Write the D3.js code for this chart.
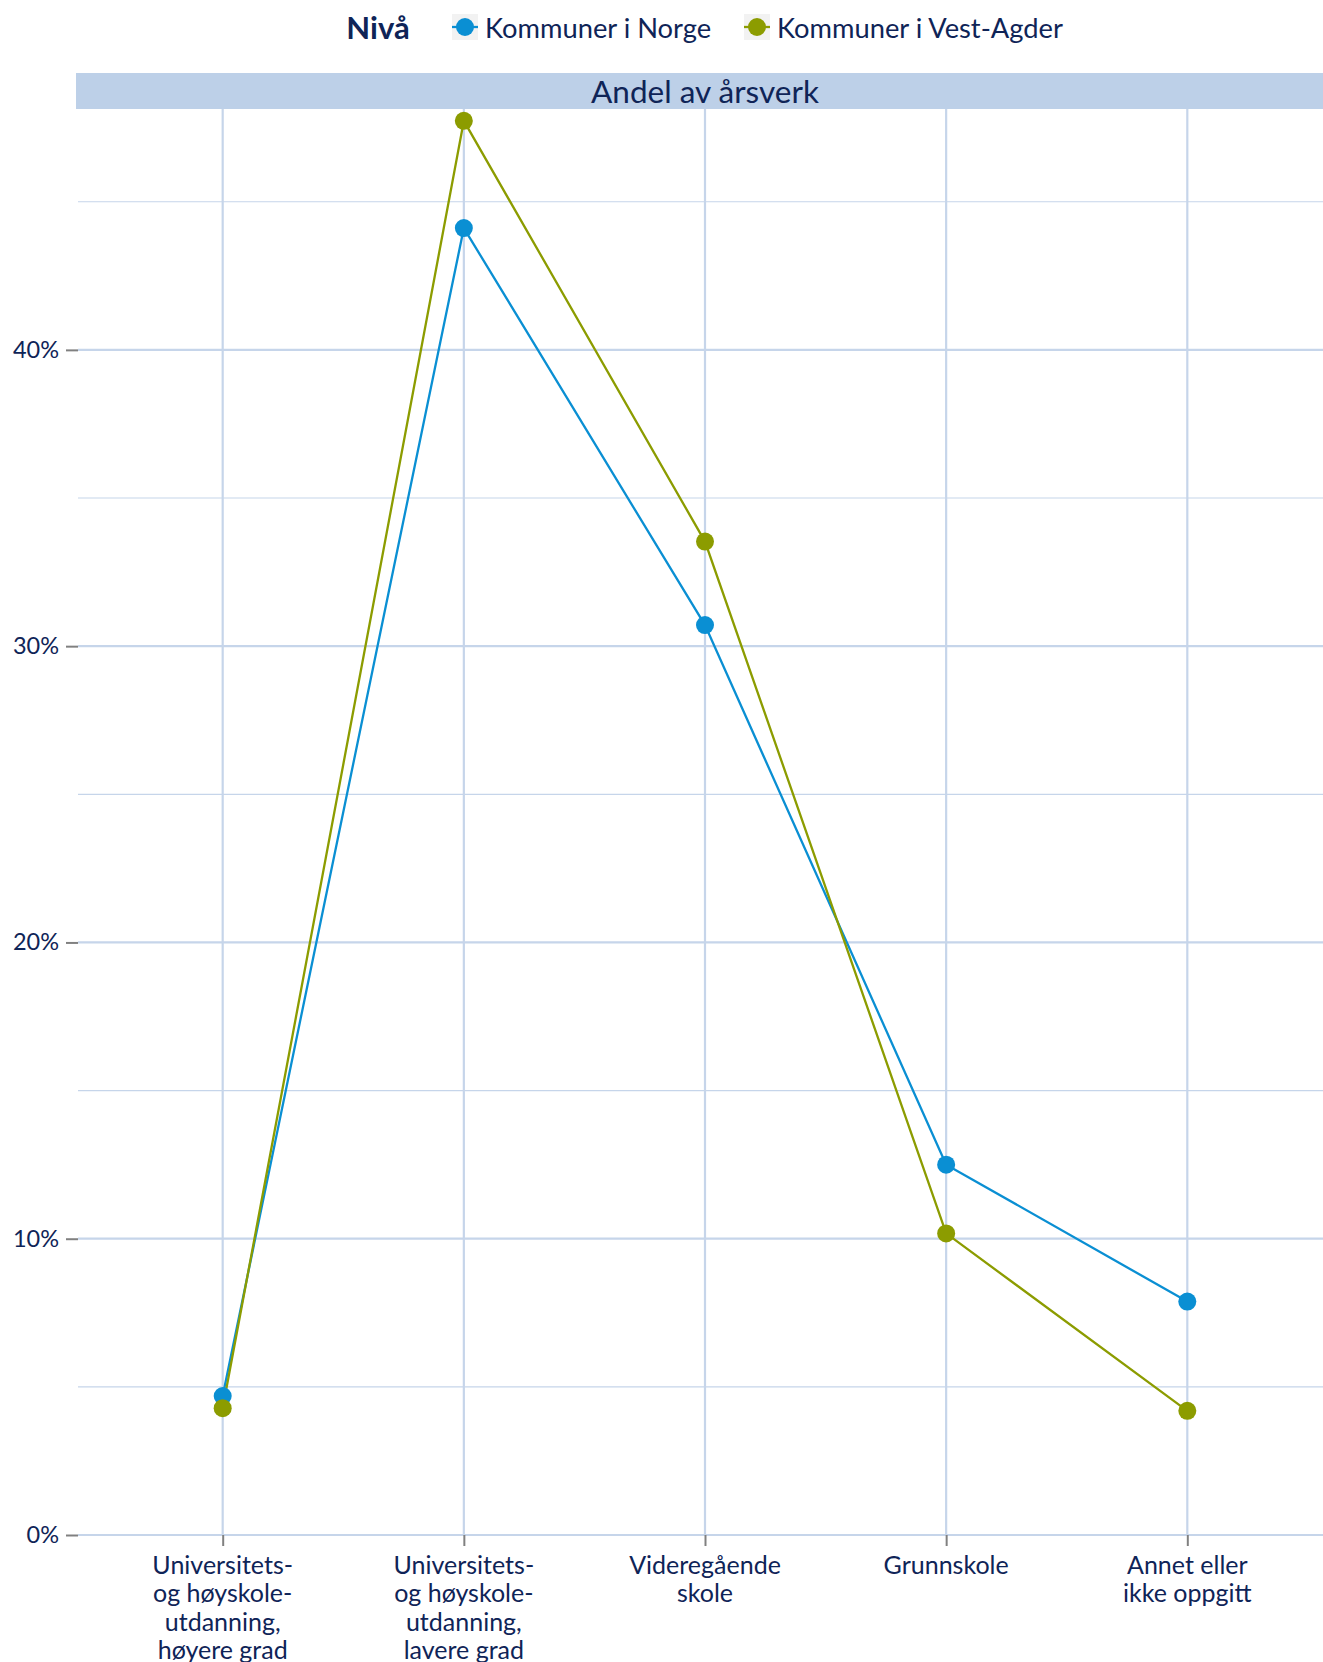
<!DOCTYPE html>
<html><head><meta charset="utf-8">
<script src="https://cdn.jsdelivr.net/npm/d3@7"></script>
<style>body{margin:0;background:#fff}svg{display:block}text{font-family:Lato,"Open Sans",sans-serif;fill:#0F2457}</style>
</head><body>
<svg id="c" width="1323" height="1662"></svg>
<script>
const categories = [
  ["Universitets-","og høyskole-","utdanning,","høyere grad"],
  ["Universitets-","og høyskole-","utdanning,","lavere grad"],
  ["Videregående","skole"],
  ["Grunnskole"],
  ["Annet eller","ikke oppgitt"]
];
const catKeys = categories.map(d => d.join(" "));
const seriesNames = ["Kommuner i Norge", "Kommuner i Vest-Agder"];
const norge = [4.69, 44.11, 30.71, 12.50, 7.88];
const vestAgder = [4.28, 47.73, 33.53, 10.18, 4.19];
const yTicks = [0, 10, 20, 30, 40];
const yMinor = [5, 15, 25, 35, 45];
const colors = ["#0A8FD3", "#8C9C00"];
const stripTitle = "Andel av årsverk";
const legendTitle = "Nivå";

(function(){
const svg = d3.select("#c");
const pL = 78, pR = 1332, pT = 109, pB = 1535;
const x = d3.scalePoint().domain(catKeys).range([pL, pR]).padding(0.6);
const y = d3.scaleLinear().domain([0, 48.13]).range([pB, pT]);
const grid = "#C6D5EA";

svg.append("defs").append("clipPath").attr("id","p").append("rect")
  .attr("x", pL).attr("y", pT).attr("width", pR-pL).attr("height", pB-pT+2);

const g = svg.append("g").attr("clip-path","url(#p)");
g.selectAll(".mi").data(yMinor).join("line")
  .attr("x1", pL).attr("x2", pR).attr("y1", d=>y(d)).attr("y2", d=>y(d))
  .attr("stroke", grid).attr("stroke-width", 1.2);
g.selectAll(".ma").data(yTicks).join("line")
  .attr("x1", pL).attr("x2", pR).attr("y1", d=>y(d)).attr("y2", d=>y(d))
  .attr("stroke", grid).attr("stroke-width", 2.2);
g.selectAll(".vx").data(catKeys).join("line")
  .attr("x1", d=>x(d)).attr("x2", d=>x(d)).attr("y1", pT).attr("y2", pB)
  .attr("stroke", grid).attr("stroke-width", 2.2);

svg.append("rect").attr("x", 76).attr("y", 73).attr("width", 1323-76).attr("height", 36).attr("fill", "#BDD0E8");
svg.append("text").attr("x", (pL+pR)/2).attr("y", 92).attr("dy", "0.35em")
  .attr("text-anchor","middle").attr("font-size", 31.5).text(stripTitle);

const ya = svg.append("g").attr("transform", `translate(${pL},0)`)
  .call(d3.axisLeft(y).tickValues(yTicks).tickFormat(d => d + "%").tickSize(12).tickPadding(7));
ya.select(".domain").remove();
ya.selectAll(".tick line").attr("stroke", "#808080").attr("stroke-width", 2);
ya.selectAll(".tick text").attr("font-size", 23.5).attr("font-family", "Lato").attr("fill", "#0F2457");

const xa = svg.append("g").attr("transform", `translate(0,${pB})`)
  .call(d3.axisBottom(x).tickSize(11).tickFormat(""));
xa.select(".domain").remove();
xa.selectAll(".tick line").attr("stroke", "#808080").attr("stroke-width", 2);
categories.forEach((lines, i) => {
  const t = svg.append("text").attr("text-anchor","middle").attr("font-size", 25)
    .attr("transform", `translate(${x(catKeys[i])},${pB + 39})`);
  lines.forEach((l, j) => t.append("tspan").attr("x", 0).attr("y", j*28.3).text(l));
});

const series = [norge, vestAgder];
const line = d3.line().x((d,i)=>x(catKeys[i])).y(d=>y(d));
series.forEach((vals, k) => {
  svg.append("path").attr("d", line(vals)).attr("fill","none")
    .attr("stroke", colors[k]).attr("stroke-width", 2.3);
});
series.forEach((vals, k) => {
  svg.selectAll(".pt"+k).data(vals).join("circle")
    .attr("cx", (d,i)=>x(catKeys[i])).attr("cy", d=>y(d)).attr("r", 9).attr("fill", colors[k]);
});

svg.append("text").attr("x", 378).attr("y", 28).attr("dy","0.35em").attr("text-anchor","middle")
  .attr("font-size", 31).attr("font-weight", "bold").text(legendTitle);
const keyX = [452, 744];
series.forEach((s, k) => {
  const kg = svg.append("g").attr("transform", `translate(${keyX[k]},14)`);
  kg.append("rect").attr("width", 26).attr("height", 26).attr("fill", "#F2F2F2");
  kg.append("line").attr("x1", 0).attr("x2", 26).attr("y1", 13).attr("y2", 13).attr("stroke", colors[k]).attr("stroke-width", 2.3);
  kg.append("circle").attr("cx", 13).attr("cy", 13).attr("r", 9).attr("fill", colors[k]);
  kg.append("text").attr("x", 33).attr("y", 14).attr("dy","0.35em").attr("font-size", 27.3).text(seriesNames[k]);
});
})();
</script>
</body></html>
